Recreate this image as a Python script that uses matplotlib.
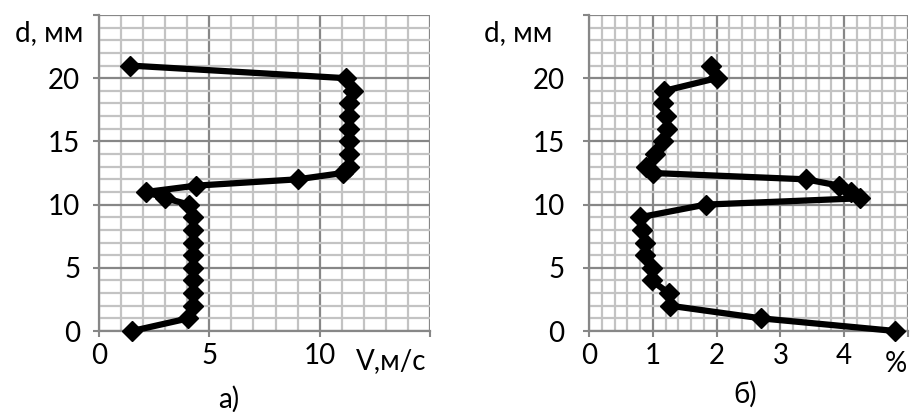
import matplotlib
matplotlib.use("Agg")
import matplotlib.pyplot as plt
from matplotlib.ticker import MultipleLocator

plt.rcParams['font.family'] = ['Lato', 'DejaVu Sans']

# depth of the measuring point, mm (same for both panels)
depth = [0, 1, 2, 3, 4, 5, 6, 7, 8, 9, 10, 10.5, 11, 11.5, 12, 12.5,
         13, 14, 15, 16, 17, 18, 19, 20, 21]
# a) flow speed, m/s
speed = [1.5, 4.05, 4.25, 4.25, 4.25, 4.25, 4.25, 4.25, 4.25, 4.25, 4.1, 3.0,
         2.15, 4.4, 9.0, 11.05, 11.35, 11.35, 11.35, 11.35, 11.35, 11.35,
         11.5, 11.2, 1.4]
# b) relative value, %
percent = [4.8, 2.7, 1.27, 1.25, 0.98, 0.98, 0.88, 0.88, 0.83, 0.8, 1.83, 4.25,
           4.1, 3.92, 3.4, 1.0, 0.9, 1.03, 1.16, 1.22, 1.2, 1.16, 1.18, 2.0,
           1.92]

xticks_a = [0, 5, 10, 15]
xlabels_a = ['0', '5', '10', '']
xticks_b = [0, 1, 2, 3, 4, 5]
xlabels_b = ['0', '1', '2', '3', '4', '']
yticks = [0, 5, 10, 15, 20, 25]
ylabels = ['0', '5', '10', '15', '20', '']

W, H = 911, 412
major_c = '#878787'
minor_c = '#c3c3c3'
fs = 20


def setup(ax, xmax, xminor, xticks, xlabels, ypad):
    ax.set_xlim(0, xmax)
    ax.set_ylim(0, 25)
    ax.set_xticks(xticks)
    ax.set_xticklabels(xlabels)
    ax.set_yticks(yticks)
    ax.set_yticklabels(ylabels)
    ax.xaxis.set_minor_locator(MultipleLocator(xminor))
    ax.yaxis.set_minor_locator(MultipleLocator(1))
    ax.grid(which='minor', color=minor_c, lw=1.6, zorder=0)
    ax.grid(which='major', color=major_c, lw=1.6, zorder=0)
    ax.set_axisbelow(True)
    for s in ['top', 'right']:
        ax.spines[s].set_visible(False)
    for s in ['left', 'bottom']:
        ax.spines[s].set_color(major_c)
        ax.spines[s].set_linewidth(1.6)
    ax.tick_params(which='major', length=4.5, width=1.5, color=major_c,
                   labelsize=fs, labelcolor='black')
    ax.tick_params(axis='y', pad=ypad)
    ax.tick_params(axis='x', pad=4)
    ax.tick_params(which='minor', length=0)


fig = plt.figure(figsize=(W / 100, H / 100), dpi=100)
ax1 = fig.add_axes([99 / W, 81 / H, 331 / W, 316 / H])
ax2 = fig.add_axes([589 / W, 81 / H, 319 / W, 316 / H])

setup(ax1, 15, 1, xticks_a, xlabels_a, 9)
setup(ax2, 5, 0.2, xticks_b, xlabels_b, 13)

for ax, xs in [(ax1, speed), (ax2, percent)]:
    ax.plot(xs, depth, color='black', lw=4.5, marker='D', markersize=10,
            clip_on=False, zorder=3)

fig.text(83 / W, 1 - 41 / H, 'd, мм', ha='right', va='baseline', fontsize=fs)
fig.text(552 / W, 1 - 41 / H, 'd, мм', ha='right', va='baseline', fontsize=fs)
fig.text(391 / W, 1 - 369 / H, 'V,м/с', ha='center', va='baseline', fontsize=fs)
fig.text(896 / W, 1 - 372 / H, '%', ha='center', va='baseline', fontsize=fs)
fig.text(229 / W, 1 - 408 / H, 'а)', ha='center', va='baseline', fontsize=fs)
fig.text(745 / W, 1 - 403 / H, 'б)', ha='center', va='baseline', fontsize=fs)

fig.savefig('out.png', dpi=100)
